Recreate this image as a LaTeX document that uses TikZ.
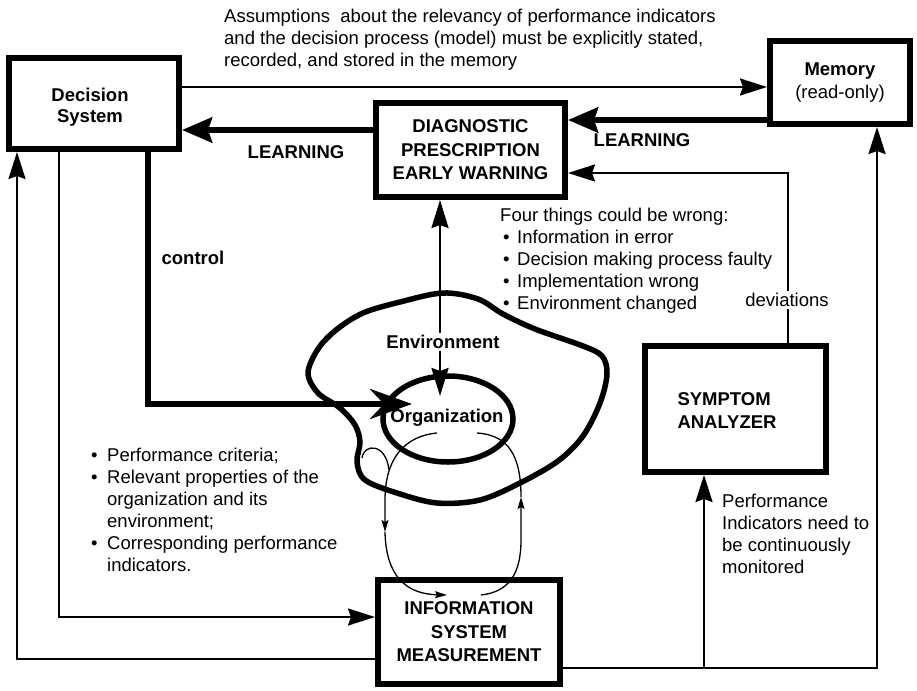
\documentclass[tikz,border=0pt]{standalone}
\usepackage{fontspec}
\setmainfont{Liberation Sans}
\usetikzlibrary{arrows.meta,shapes.geometric}
\newcommand{\bul}{\makebox[16pt][l]{•}}
\newcommand{\bulb}{\hspace*{3pt}\makebox[14pt][l]{•}}
\begin{document}
\begin{tikzpicture}[x=1pt,y=-1pt,
  font=\fontsize{18.5}{22}\selectfont,
  box/.style={draw, line width=6pt, rectangle, inner sep=0pt, align=center,
    font=\fontsize{18.5}{23.5}\selectfont\bfseries},
  thinline/.style={line width=2.4pt},
  thickline/.style={line width=6pt},
  loopline/.style={line width=1.3pt},
  tipT/.style={-{Stealth[length=27pt,width=17pt,inset=3pt]}},
  tipL/.style={-{Stealth[length=30pt,width=25pt,inset=4pt]}},
  tipC/.style={-{Stealth[length=42pt,width=30pt,inset=14pt]}},
  tipE/.style={{Stealth[length=28pt,width=17pt,inset=3pt]}-{Stealth[length=28pt,width=17pt,inset=3pt]}},
  tipS/.style={-{Stealth[length=12pt,width=7pt,inset=2pt]}},
  txt/.style={inner sep=0pt, align=left},
  btxt/.style={inner sep=0pt, font=\fontsize{18.5}{22}\selectfont\bfseries},
]
\useasboundingbox (0,0) rectangle (917,690);

% environment blob
\draw[line width=5.5pt, line join=round] plot[smooth cycle, tension=0.55] coordinates {
 (443,293) (478,299) (503,314) (535,329) (583,346) (602,356) (607,374) (600,403)
 (583,436) (558,461) (520,483) (480,500) (437,503) (397,493) (365,480) (357,462)
 (360,442) (355,425) (340,408) (318,393) (308,373) (318,349) (336,330) (363,313) (400,302)};

% boxes
\node[box, minimum width=170pt, minimum height=91pt] (dec) at (94,103.5) {};
\node[btxt, align=center, font=\fontsize{18.5}{21.5}\selectfont\bfseries] (dectext) at (90,107) {Decision\\System};
\node[box, minimum width=140pt, minimum height=83pt] (mem) at (840,82.5) {Memory\\\mdseries(read-only)};
\node[box, minimum width=189pt, minimum height=94pt] (diag) at (470.5,150) {DIAGNOSTIC\\PRESCRIPTION\\EARLY WARNING};
\node[box, minimum width=181pt, minimum height=126pt] (sym) at (735.5,409) {};
\node[btxt, align=left, font=\fontsize{18.5}{23}\selectfont\bfseries] (symtext) at (727,410.5) {SYMPTOM\\ANALYZER};
\node[box, minimum width=182pt, minimum height=104pt] (info) at (469,632) {INFORMATION\\SYSTEM\\MEASUREMENT};
\node[draw, ellipse, line width=5.5pt, minimum width=130pt, minimum height=86pt, inner sep=0pt] (org) at (448,419) {};
\node[btxt] (orgtext) at (447,418) {Organization};

% helper coordinates
\coordinate (yTop) at (0,87);
\coordinate (yL1) at (0,120);
\coordinate (yL2) at (0,130);
\coordinate (yDev) at (0,173);
\coordinate (xDev) at (788,0);
\coordinate (yB1) at (0,659);
\coordinate (yB2) at (0,668);
\coordinate (xR) at (877,0);
\coordinate (xS) at (704,0);
\coordinate (xL) at (17,0);
\coordinate (xM) at (59,0);
\coordinate (yI) at (0,617);
\coordinate (xC) at (148,0);
\coordinate (yC) at (0,404);
\coordinate (ctrlEnd) at (412,404);
\coordinate (xE) at (440,0);
\coordinate (orgIn) at (440,396);

% connectors
\draw[thinline, tipT] (dec.east |- yTop) -- (mem.west |- yTop);
\draw[thickline, tipL] (mem.west |- yL1) -- (diag.east |- yL1);
\draw[thickline, tipL] (diag.west |- yL2) -- (dec.east |- yL2);
\draw[thinline, tipT] (sym.north -| xDev) -- (xDev |- yDev) -- (diag.east |- yDev);
\draw[thinline, tipT] (info.east |- yB2) -- (xR |- yB2) -- (mem.south -| xR);
\draw[thinline, tipT] (xS |- yB2) -- (sym.south -| xS);
\draw[thinline, tipT] (info.west |- yB1) -- (xL |- yB1) -- (dec.south -| xL);
\draw[thinline, tipT] (dec.south -| xM) -- (xM |- yI) -- (info.west |- yI);
\draw[thickline, tipC] (dec.south -| xC) -- (xC |- yC) -- (ctrlEnd);
\draw[line width=2.5pt, tipE] (diag.south -| xE) -- (orgIn);

% measurement loop
\coordinate (la) at (437,433);
\coordinate (lb) at (385,532);
\coordinate (lc) at (447,595);
\coordinate (ra) at (481,595);
\coordinate (rb) at (521,497);
\coordinate (rc) at (477,433);
\draw[loopline, tipS] (la) .. controls (405,436) and (385,458) .. (385,500) -- (lb);
\draw[loopline, tipS] (lb) .. controls (386,575) and (405,594) .. (lc);
\draw[loopline, tipS] (ra) .. controls (508,592) and (521,575) .. (521,540) -- (rb);
\draw[loopline] (rb) .. controls (521,455) and (508,435) .. (rc);
\coordinate (ha) at (362,458);
\coordinate (hb) at (389,470);
\draw[loopline] (ha) .. controls (364,443) and (386,443) .. (hb);

% labels
\node[btxt, fill=white, inner sep=2pt] (envlab) at (443,342) {Environment};
\node[fill=white, inner sep=2pt] (devlab) at (787,300) {deviations};
\node[btxt] (learn1) at (296,152) {LEARNING};
\node[btxt] (learn2) at (642,140) {LEARNING};
\node[btxt] (ctrl) at (193,258) {control};

\node[txt, anchor=west] (toptext) at (224,40) {Assumptions\ \ about the relevancy of performance indicators\\and the decision process (model) must be explicitly stated,\\recorded, and stored in the memory};
\node[txt, anchor=west] (four) at (500,261) {Four things could be wrong:\\\bulb Information in error\\\bulb Decision making process faulty\\\bulb Implementation wrong\\\bulb Environment changed};
\node[txt, anchor=west] (crit) at (91,510) {\bul Performance criteria;\\\bul Relevant properties of the\\\hspace*{16pt}organization and its\\\hspace*{16pt}environment;\\\bul Corresponding performance\\\hspace*{16pt}indicators.};
\node[txt, anchor=west] (perf) at (722,534) {Performance\\Indicators need to\\be continuously\\monitored};
\end{tikzpicture}
\end{document}
